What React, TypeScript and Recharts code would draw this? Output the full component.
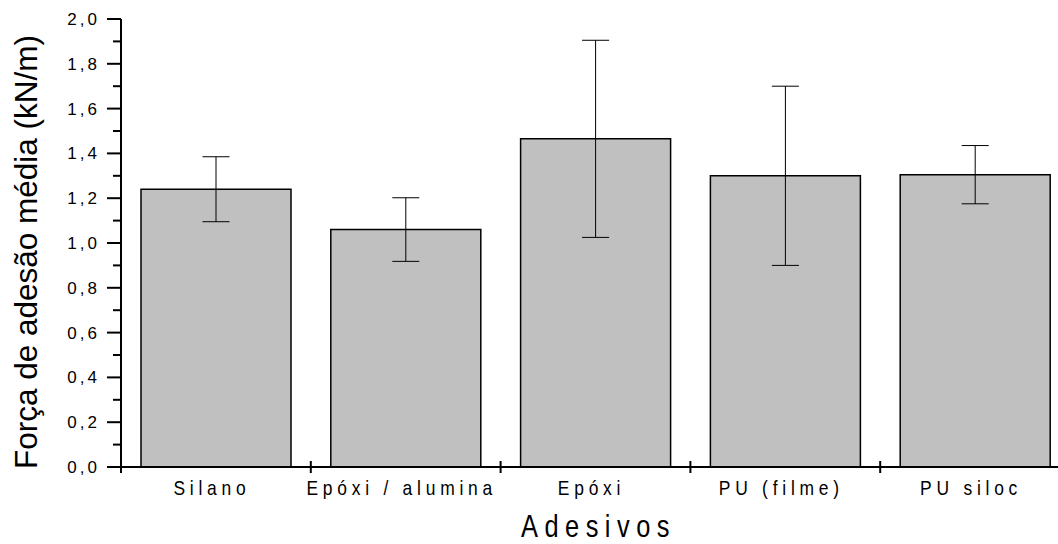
import React from 'react';
import { BarChart, Bar, XAxis, YAxis, ErrorBar } from 'recharts';

const categories = ['Silano', 'Epóxi / alumina', 'Epóxi', 'PU (filme)', 'PU siloc'];
const means = [1.24, 1.06, 1.465, 1.3, 1.305];
const errors = [0.145, 0.142, 0.44, 0.4, 0.13];
const yTicks = [0, 0.1, 0.2, 0.3, 0.4, 0.5, 0.6, 0.7, 0.8, 0.9, 1.0, 1.1, 1.2, 1.3, 1.4, 1.5, 1.6, 1.7, 1.8, 1.9, 2.0];
const yTickLabels = ['0,0', '', '0,2', '', '0,4', '', '0,6', '', '0,8', '', '1,0', '', '1,2', '', '1,4', '', '1,6', '', '1,8', '', '2,0'];

const data = categories.map((name, i) => ({ name, value: means[i], err: errors[i] }));

const FONT = '"Liberation Sans", Arial, Helvetica, sans-serif';

const YTick = (props: any) => {
  const { x, y, index } = props;
  const label = yTickLabels[index] ?? '';
  const major = label !== '';
  const len = major ? 14 : 8;
  return (
    <g>
      <line x1={x - len} y1={y} x2={x} y2={y} stroke="#000" strokeWidth={2} />
      {major && (
        <text x={x - 21} y={y} dy={6} textAnchor="end" fontSize={17} letterSpacing={3} fill="#000" fontFamily={FONT}>
          {label}
        </text>
      )}
    </g>
  );
};

const XTick = (props: any) => {
  const { x, y, payload } = props;
  const half = payload && typeof payload.offset === 'number' ? payload.offset : 94.9;
  return (
    <g>
      <line x1={x - half} y1={y - 6} x2={x - half} y2={y + 6} stroke="#000" strokeWidth={2} />
      <g transform={`translate(${x - 4},${y + 28})`}>
        <text transform="scale(0.85,1)" textAnchor="middle" fontSize={20.5} letterSpacing={5.6} fill="#000" fontFamily={FONT}>
          {payload.value}
        </text>
      </g>
    </g>
  );
};

const YLabel = (props: any) => {
  const vb = props.viewBox || { x: 0, y: 19, width: 121, height: 448 };
  const cx = vb.x + 37;
  const cy = vb.y + vb.height / 2 + 9;
  return (
    <text transform={`translate(${cx},${cy}) rotate(-90)`} textAnchor="middle" fontSize={31.5} fill="#000" fontFamily={FONT}>
      Força de adesão média (kN/m)
    </text>
  );
};

const XLabel = (props: any) => {
  const vb = props.viewBox || { x: 121, y: 467, width: 949, height: 77 };
  const cx = vb.x + vb.width / 2 + 3;
  const cy = vb.y + 70;
  return (
    <g transform={`translate(${cx},${cy})`}>
      <text transform="scale(0.82,1)" textAnchor="middle" fontSize={31} letterSpacing={7.9} fill="#000" fontFamily={FONT}>
        Adesivos
      </text>
    </g>
  );
};

export default function App() {
  return (
    <div style={{ position: 'absolute', left: 0, top: 0, width: 1058, height: 544, overflow: 'hidden', background: '#fff' }}>
      <BarChart width={1080} height={544} data={data} margin={{ top: 19, right: 10, left: 0, bottom: 0 }}>
        <XAxis
          dataKey="name"
          height={77}
          interval={0}
          tickSize={0}
          tickMargin={0}
          tickLine={false}
          axisLine={{ stroke: '#000', strokeWidth: 2 }}
          tick={<XTick />}
          label={{ content: <XLabel /> } as any}
        />
        <YAxis
          type="number"
          domain={[0, 2]}
          ticks={yTicks}
          interval={0}
          width={121}
          tickSize={0}
          tickMargin={0}
          tickLine={false}
          axisLine={{ stroke: '#000', strokeWidth: 2 }}
          tick={<YTick />}
          label={{ content: <YLabel /> } as any}
        />
        <Bar dataKey="value" fill="#c0c0c0" stroke="#000" strokeWidth={1.5} barSize={150} isAnimationActive={false}>
          <ErrorBar dataKey="err" width={13.5} stroke="#000" strokeWidth={1} isAnimationActive={false} />
        </Bar>
      </BarChart>
    </div>
  );
}
